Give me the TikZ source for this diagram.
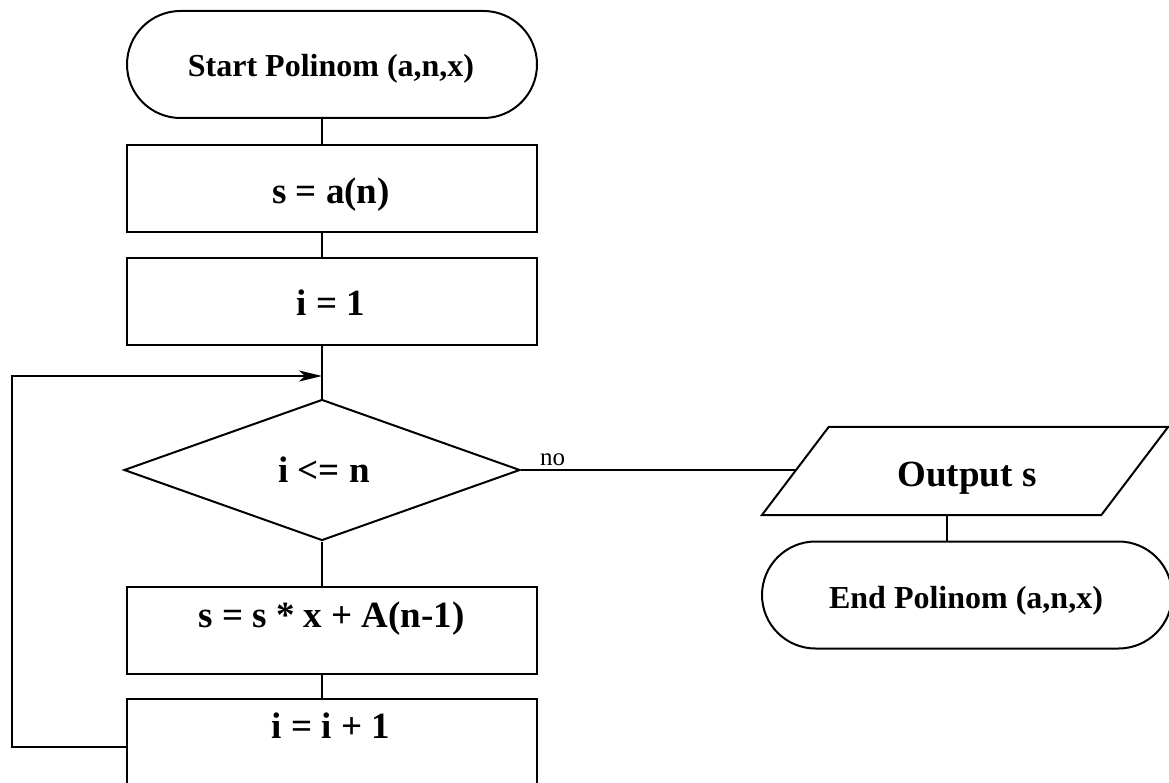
\documentclass[tikz,border=0pt]{standalone}
\usepackage{fontspec}
\setmainfont{Liberation Serif}
\usetikzlibrary{shapes.geometric,shapes.misc,arrows.meta}
\begin{document}
\begin{tikzpicture}[x=1pt,y=-1pt,
  shp/.style={draw=black,line width=2pt,inner sep=0pt},
  procbox/.style={shp,rectangle,minimum width=410pt,minimum height=87pt},
  term/.style={shp,rounded rectangle,minimum width=410pt,minimum height=107pt},
  decbox/.style={shp,diamond,minimum width=396pt,minimum height=141pt},
  ioframe/.style={rectangle,inner sep=0pt,minimum width=406pt,minimum height=88pt},
  lbl/.style={anchor=base,inner sep=0pt,font=\bfseries\fontsize{37}{40}\selectfont},
  tlbl/.style={anchor=base,inner sep=0pt,font=\bfseries\fontsize{32}{36}\selectfont},
  conn/.style={draw=black,line width=2pt},
  backarrow/.style={conn,-{Stealth[length=23pt,width=11pt,inset=6pt]}},
]
\fill[white] (0,0) rectangle (1169,783);
\useasboundingbox (0,0) rectangle (1169,783);
\clip (0,0) rectangle (1169,783);

% main column
\node[term]    (start) at (332,64.5)  {};
\node[procbox] (b1)    at (332,188.5) {};
\node[procbox] (b2)    at (332,301.5) {};
\node[decbox]  (dec)   at (322,470)   {};
\node[procbox] (b3)    at (332,630.5) {};
\node[procbox] (b4)    at (332,742.5) {};

% right column: output parallelogram drawn on its frame, then the end terminal
\node[ioframe] (out) at (965,471) {};
\draw[shp] (out.south west) -- ([xshift=-67pt]out.south east) -- (out.north east)
  -- ([xshift=67pt]out.north west) -- cycle;
\node[term]  (endn) at (967,595) {};

% labels
\node[tlbl] (tstart) at (331,77)  {Start Polinom (a,n,x)};
\node[lbl]  (t1)     at (331,204) {s = a(n)};
\node[lbl]  (t2)     at (331,316) {i = 1};
\node[lbl]  (tdec)   at (324,482) {i <= n};
\node[lbl]  (t3)     at (331.5,627) {s = s * x + A(n-1)};
\node[lbl]  (t4)     at (331,738) {i = i + 1};
\node[lbl]  (tout)   at (967,486) {Output s};
\node[tlbl] (tend)   at (966,608) {End Polinom (a,n,x)};
\node[anchor=base west,inner sep=0pt,font=\fontsize{25}{28}\selectfont] (tno) at (540,465) {no};

% connectors
\coordinate (lx) at (12,376);
\coordinate (rx) at (947,0);
\coordinate (inpt) at ([xshift=33.5pt]out.west);
\draw[conn] (start.south -| dec.north) -- (b1.north -| dec.north);
\draw[conn] (b1.south -| dec.north) -- (b2.north -| dec.north);
\draw[conn] (b2.south -| dec.north) -- (dec.north);
\draw[conn] (dec.south) -- (b3.north -| dec.south);
\draw[conn] (b3.south -| dec.south) -- (b4.north -| dec.south);
\draw[conn] (dec.east) -- (dec.east -| inpt);
\draw[conn] (out.south -| rx) -- (endn.north -| rx);
\draw[backarrow] ([yshift=-4.5pt]b4.west) -| (lx) -- (dec.north |- lx);
\end{tikzpicture}
\end{document}
